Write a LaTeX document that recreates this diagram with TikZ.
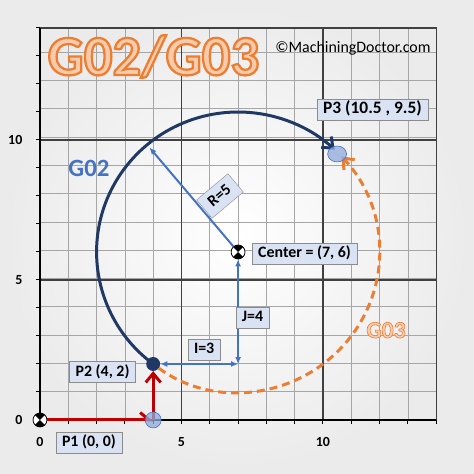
\documentclass[tikz,border=0pt]{standalone}
\usepackage{fontspec}
\setmainfont{Carlito}
\newfontfamily\titlefont[FakeBold=4]{Carlito Bold}
\newfontfamily\tagfont[FakeBold=2.5]{Carlito Bold}
\usetikzlibrary{arrows.meta,positioning,calc,shapes.geometric}
\definecolor{navyarc}{HTML}{203864}
\definecolor{midblue}{HTML}{4472C4}
\definecolor{darkorange}{HTML}{ED7D31}
\definecolor{lightorange}{HTML}{F8CBAD}
\definecolor{darkred}{HTML}{C00000}
\definecolor{boxblue}{HTML}{DAE3F3}
\definecolor{ptblue}{HTML}{8FAADC}
% fill and outline colours for stroked text
\newcommand{\orangetext}[1]{\special{pdf:bcolor [0.973 0.796 0.678] [0.929 0.490 0.192]}#1\special{pdf:ecolor}}
\tikzset{labelbox/.style={draw=black!45,fill=boxblue,font=\bfseries\fontsize{16}{16}\selectfont,
  inner xsep=6pt,inner ysep=3.5pt,text height=11pt,text depth=3pt}}
\tikzset{ticklabel/.style={font=\bfseries\fontsize{14}{14}\selectfont}}
\tikzset{centermark/.style={circle,draw=black,fill=white,line width=0.8pt,minimum size=14pt,inner sep=0pt,
  path picture={
    \fill[black] (path picture bounding box.center) -- ++(45:9pt) arc[start angle=45,end angle=135,radius=9pt] -- cycle;
    \fill[black] (path picture bounding box.center) -- ++(225:9pt) arc[start angle=225,end angle=315,radius=9pt] -- cycle;}}}
\tikzset{ptmark/.style={fill=ptblue,draw=midblue,fill opacity=0.75,line width=0.6pt,inner sep=0pt}}
\tikzset{barb/.style={-{Straight Barb[length=9pt,width=15pt]}}}
\tikzset{blueline/.style={midblue,line width=2pt}}
\begin{document}
\begin{tikzpicture}[x=1cm,y=0.9894cm]
\useasboundingbox (-1.413,-1.929) rectangle (15.336,15.0);
\shade[inner color=white,outer color=black!8] (-1.413,-1.929) rectangle (15.336,15.0);
%
% grid and axes
\draw[black!35,line width=0.6pt] (0,0) grid (14,14);
\foreach \k in {5,10}{
  \draw[black!75,line width=1.2pt] (\k,0) -- (\k,14);
  \draw[black!75,line width=1.2pt] (0,\k) -- (14,\k);
}
\draw[black!75,line width=1.2pt] (0,14) -- (14,14) -- (14,0);
\foreach \k in {1,...,14}{
  \draw[black,line width=1pt] (\k,0) -- (\k,-0.15);
  \draw[black,line width=1pt] (0,\k) -- (-0.15,\k);
}
\draw[black,line width=1.6pt] (0,14) -- (0,0) -- (14,0);
%
{
\node (y0) [ticklabel,anchor=east] at (-0.5,0) {0};
\node (y5) [ticklabel,anchor=east] at (-0.5,5) {5};
\node (y10) [ticklabel,anchor=east] at (-0.5,10) {10};
\node (x0) [ticklabel] at (0,-0.79) {0};
\node (x5) [ticklabel] at (5,-0.79) {5};
\node (x10) [ticklabel] at (10,-0.79) {10};
}
%
{
\node (title) [anchor=base] at (4.01,12.32) {\titlefont\fontsize{57}{57}\selectfont\orangetext{G02/G03}};
\node (copyr) [anchor=base] at (11.06,13.12) {\fontsize{16}{16}\selectfont ©MachiningDoctor.com};
}
%
{
\node (orig) [centermark] at (0,0) {};
\coordinate (p1) at (4,0);
\node (p2) [circle,fill=navyarc,minimum size=14pt,inner sep=0pt] at (4,2) {};
\node (cen) [centermark] at (7,6) {};
\coordinate (ij) at (7,2);
\coordinate (rend) at ($(cen)+(130:4.87)$);
}
%
% G02 and G03 arcs
{
\draw[navyarc,line width=3pt,barb] (p2.center) arc[start angle=233.13,end angle=47,radius=5];
\draw[darkorange,line width=3pt,dash pattern=on 8pt off 5pt,barb,shorten <=7pt] (p2.center) arc[start angle=233.13,end angle=403,radius=5];
\node (g02) [anchor=base,text=midblue,font=\bfseries\fontsize{25}{25}\selectfont] at (1.73,8.71) {G02};
\node (g03) [anchor=base] at (12.23,2.93) {\tagfont\fontsize{24}{24}\selectfont\orangetext{G03}};
}
%
{
\path[blueline,{Latex[length=7pt,width=6pt]}-{Latex[length=7pt,width=6pt]}] (p2) edge (ij);
\path[blueline,{Latex[length=7pt,width=6pt]}-{Latex[length=7pt,width=6pt]}] (ij) edge (cen);
\path[blueline,-{Latex[length=7pt,width=6pt]}] (cen) edge (rend);
}
%
{
\path[darkred,line width=3pt,-{Straight Barb[harpoon,length=9pt,width=15pt]}] (orig) edge (p1);
\path[darkred,line width=3pt,barb] (p1) edge (p2);
\node (p1mark) [ptmark,circle,minimum size=16pt] at (p1) {};
\node (p3) [ptmark,ellipse,minimum width=19pt,minimum height=16pt] at (10.5,9.5) {};
}
%
{
\node (p3lab) [labelbox,font=\bfseries\fontsize{17.5}{18}\selectfont] at (11.75,11.09) {P3 (10.5 , 9.5)};
\node (cenlab) [labelbox] at (9.35,5.93) {Center = (7, 6)};
\node (ilab) [labelbox] at (5.8,2.5) {I=3};
\node (jlab) [labelbox] at (7.51,3.66) {J=4};
\node (p2lab) [labelbox] at (2.21,1.71) {P2 (4, 2)};
\node (p1lab) [labelbox] at (1.73,-0.82) {P1 (0, 0)};
\node (rlab) [labelbox,rotate=40,inner xsep=8pt,inner ysep=5pt] at (6.36,8.0) {R=5};
}
\end{tikzpicture}
\end{document}
